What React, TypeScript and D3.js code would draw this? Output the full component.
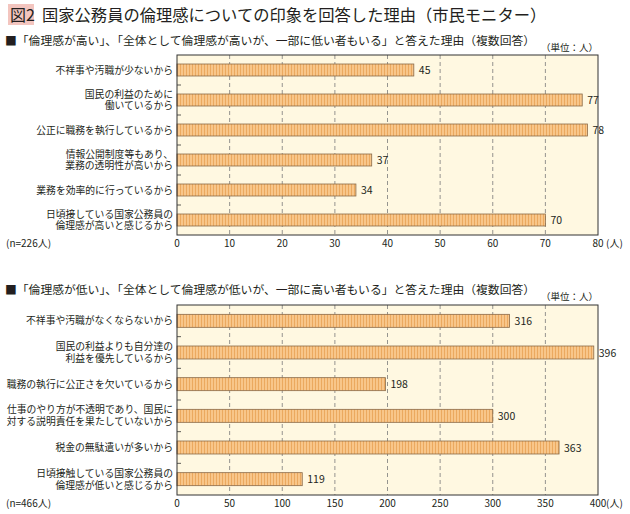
import React from "react";
import * as d3 from "d3";

const topCategories: string[][] = [
  ["不祥事や汚職が少ないから"],
  ["国民の利益のために", "働いているから"],
  ["公正に職務を執行しているから"],
  ["情報公開制度等もあり、", "業務の透明性が高いから"],
  ["業務を効率的に行っているから"],
  ["日頃接している国家公務員の", "倫理感が高いと感じるから"],
];
const topValues: number[] = [45, 77, 78, 37, 34, 70];
const topTicks: number[] = [0, 10, 20, 30, 40, 50, 60, 70, 80];

const bottomCategories: string[][] = [
  ["不祥事や汚職がなくならないから"],
  ["国民の利益よりも自分達の", "利益を優先しているから"],
  ["職務の執行に公正さを欠いているから"],
  ["仕事のやり方が不透明であり、国民に", "対する説明責任を果たしていないから"],
  ["税金の無駄遣いが多いから"],
  ["日頃接触している国家公務員の", "倫理感が低いと感じるから"],
];
const bottomValues: number[] = [316, 396, 198, 300, 363, 119];
const bottomTicks: number[] = [0, 50, 100, 150, 200, 250, 300, 350, 400];

const FONT = "'Noto Sans CJK JP', 'Noto Sans', sans-serif";
const TXT = "#231f20";
const LINE_GAP = 11.8;

type PanelProps = {
  cats: string[][];
  vals: number[];
  ticks: number[];
  max: number;
  top: number;
  bottom: number;
  barH: number;
  n: string;
};

function Panel({ cats, vals, ticks, max, top, bottom, barH, n }: PanelProps) {
  const x = d3.scaleLinear().domain([0, max]).range([177, 598]);
  const y = d3
    .scaleBand<number>()
    .domain(d3.range(cats.length))
    .range([top, bottom])
    .padding(0);
  const bw = y.bandwidth();
  const x0 = x(0);
  const x1 = x(max);
  return (
    <g>
      <rect x={x0} y={top} width={x1 - x0} height={bottom - top} fill="#fff8e1" />
      {ticks.slice(1, -1).map((t) => (
        <line
          key={t}
          x1={x(t)}
          x2={x(t)}
          y1={top}
          y2={bottom}
          stroke="#7a7a7a"
          strokeWidth={0.8}
          strokeDasharray="4,3"
        />
      ))}
      {d3.range(1, cats.length).map((i) => (
        <line key={i} x1={x0} x2={x0 + 4} y1={y(i)!} y2={y(i)!} stroke="#333" strokeWidth={0.8} />
      ))}
      {vals.map((v, i) => {
        const cy = y(i)! + bw / 2;
        const first = cy + 3.5 - ((cats[i].length - 1) / 2) * LINE_GAP;
        return (
          <g key={i}>
            <rect
              x={x0}
              y={cy - barH / 2}
              width={x(v) - x0}
              height={barH}
              fill="url(#stripes)"
              stroke="#8a6a48"
              strokeWidth={0.8}
            />
            <text x={x(v) + 5} y={cy + 4} fontSize={10.5} fill={TXT} fontFamily={FONT}>
              {v}
            </text>
            <text
              x={173}
              y={first}
              fontSize={9.8}
              textAnchor="end"
              fill={TXT}
              fontFamily={FONT}
            >
              {cats[i].map((line, j) => (
                <tspan key={j} x={173} dy={j === 0 ? 0 : LINE_GAP}>
                  {line}
                </tspan>
              ))}
            </text>
          </g>
        );
      })}
      <rect x={x0} y={top} width={x1 - x0} height={bottom - top} fill="none" stroke="#333" strokeWidth={1} />
      {ticks.map((t) => (
        <text
          key={t}
          x={x(t)}
          y={bottom + 12}
          fontSize={10}
          textAnchor="middle"
          fill={TXT}
          fontFamily={FONT}
        >
          {t}
        </text>
      ))}
      <text x={x1 + 8} y={bottom + 12} fontSize={10} fill={TXT} fontFamily={FONT}>
        (人)
      </text>
      <text x={6} y={bottom + 12} fontSize={10} fill={TXT} fontFamily={FONT}>
        {n}
      </text>
    </g>
  );
}

export default function App() {
  return (
    <svg
      width={630}
      height={514}
      style={{ position: "absolute", left: 0, top: 0, background: "#fff" }}
    >
      <defs>
        <pattern id="stripes" patternUnits="userSpaceOnUse" width={3} height={10}>
          <rect width={3} height={10} fill="#f8c68a" />
          <rect width={1} height={10} fill="#eba95f" />
        </pattern>
      </defs>
      <rect x={0} y={0} width={630} height={514} fill="#fff" />
      <rect x={8} y={4} width={26} height={21} fill="#f3c5bf" />
      <text x={10} y={20.5} fontSize={16} fill={TXT} fontFamily={FONT}>
        図2
      </text>
      <text x={42} y={20.5} fontSize={16.3} fill={TXT} fontFamily={FONT}>
        国家公務員の倫理感についての印象を回答した理由（市民モニター）
      </text>
      <text x={5} y={45} fontSize={11.8} fill={TXT} fontFamily={FONT}>
        ■「倫理感が高い」、「全体として倫理感が高いが、一部に低い者もいる」と答えた理由（複数回答）
      </text>
      <text x={598} y={51} fontSize={9.5} textAnchor="end" fill={TXT} fontFamily={FONT}>
        （単位：人）
      </text>
      <Panel
        cats={topCategories}
        vals={topValues}
        ticks={topTicks}
        max={80}
        top={55}
        bottom={235}
        barH={12}
        n="(n=226人)"
      />
      <text x={5} y={294} fontSize={11.8} fill={TXT} fontFamily={FONT}>
        ■「倫理感が低い」、「全体として倫理感が低いが、一部に高い者もいる」と答えた理由（複数回答）
      </text>
      <text x={598} y={300} fontSize={9.5} textAnchor="end" fill={TXT} fontFamily={FONT}>
        （単位：人）
      </text>
      <Panel
        cats={bottomCategories}
        vals={bottomValues}
        ticks={bottomTicks}
        max={400}
        top={305}
        bottom={495}
        barH={13}
        n="(n=466人)"
      />
    </svg>
  );
}
